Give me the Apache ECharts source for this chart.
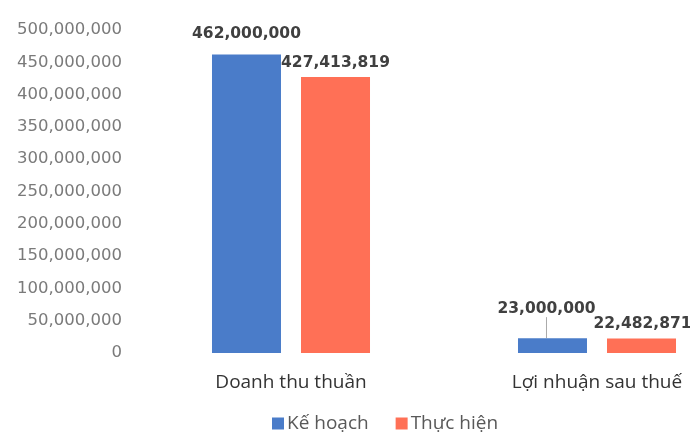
<!DOCTYPE html>
<html><head><meta charset="utf-8">
<script src="https://cdn.jsdelivr.net/npm/echarts@6/dist/echarts.min.js"></script>
<style>html,body{margin:0;padding:0;background:#fff;overflow:hidden;width:690px;height:432px}#c{width:750px;height:432px}</style>
</head><body><div id="c"></div>
<script>
const categories = ["Doanh thu thuần", "Lợi nhuận sau thuế"];
const seriesNames = ["Kế hoạch", "Thực hiện"];
const keHoach = [462000000, 23000000];
const thucHien = [427413819, 22482871];
const yTicks = [0, 50000000, 100000000, 150000000, 200000000, 250000000, 300000000, 350000000, 400000000, 450000000, 500000000];

const fmt = v => v.toLocaleString('en-US');
const chart = echarts.init(document.getElementById('c'));
const labelStyle = {show: true, position: 'top', fontFamily: 'DejaVu Sans', fontWeight: 'bold', fontSize: 15.5, color: '#404040', formatter: p => fmt(p.value)};
chart.setOption({
  animation: false,
  legend: {
    data: seriesNames, top: 414, left: 272, padding: 0, itemWidth: 12, itemHeight: 12, itemGap: 27,
    icon: 'rect',
    textStyle: {fontFamily: 'Open Sans', fontSize: 19, color: '#595959', padding: [0, 0, 0, -2]}
  },
  grid: {left: 138, right: 0, top: 30, height: 323, containLabel: false},
  xAxis: {
    type: 'category', data: categories,
    axisLine: {show: false}, axisTick: {show: false},
    axisLabel: {fontFamily: 'Open Sans', fontSize: 19, color: '#333', margin: 20}
  },
  yAxis: {
    type: 'value', min: yTicks[0], max: yTicks[yTicks.length - 1], interval: yTicks[1] - yTicks[0],
    splitLine: {show: false}, axisLine: {show: false}, axisTick: {show: false},
    axisLabel: {fontFamily: 'DejaVu Sans', fontSize: 16.5, color: '#7a7a7a', margin: 16, formatter: v => fmt(v)}
  },
  series: [
    {name: seriesNames[0], type: 'bar', barWidth: 69, barGap: '29%',
     data: keHoach.map((v, i) => ({value: v, labelLine: {show: i === 1}})),
     itemStyle: {color: '#4a7cc9'},
     label: Object.assign({}, labelStyle, {distance: 13}),
     labelLine: {lineStyle: {color: '#aaa', width: 1}},
     labelLayout: p => p.dataIndex === 1 ? {dx: -6, dy: -8} : {}
    },
    {name: seriesNames[1], type: 'bar', barWidth: 69,
     data: thucHien,
     itemStyle: {color: '#ff7056'},
     label: Object.assign({}, labelStyle, {distance: 6}),
     labelLayout: p => p.dataIndex === 1 ? {dx: 1, dy: -1} : {}
    }
  ]
});
</script></body></html>
